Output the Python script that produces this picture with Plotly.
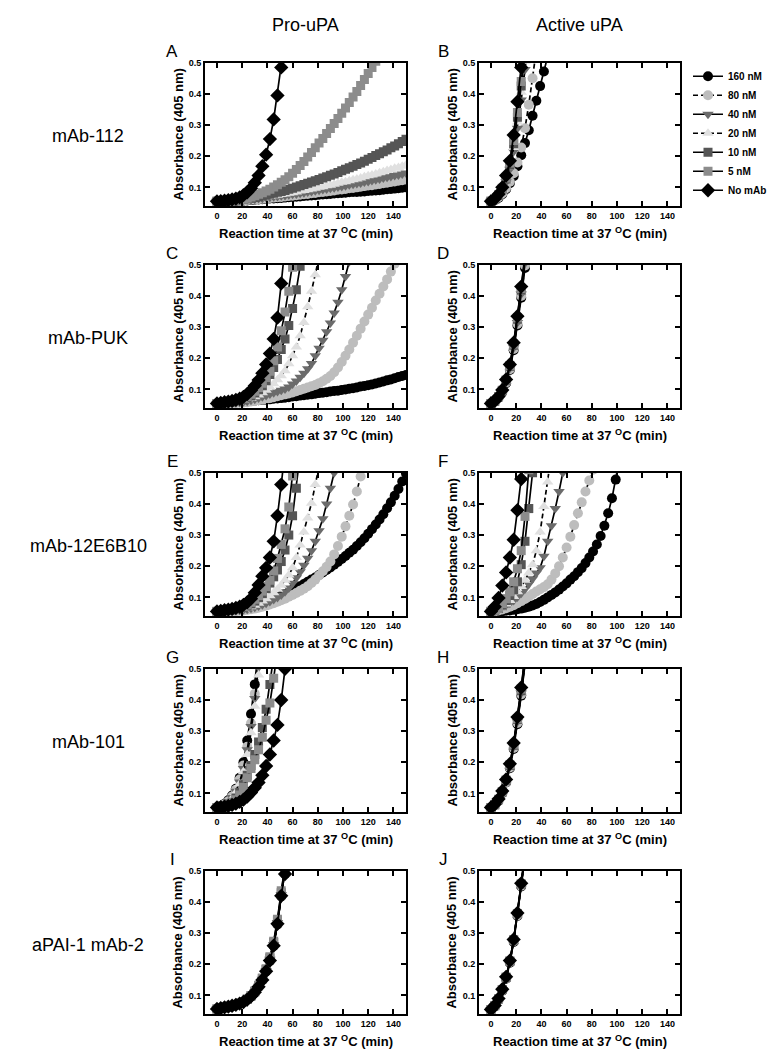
import plotly.graph_objects as go

# ---------------- data (absorbance x1000, read at 3-min intervals) ----------------
T = [0, 3, 6, 9, 12, 15, 18, 21, 24, 27, 30, 33, 36, 39, 42, 45, 48, 51, 54, 57,
     60, 63, 66, 69, 72, 75, 78, 81, 84, 87, 90, 93, 96, 99, 102, 105, 108, 111, 114, 117,
     120, 123, 126, 129, 132, 135, 138, 141, 144, 147, 150]

CONC = ["160 nM", "80 nM", "40 nM", "20 nM", "10 nM", "5 nM", "No mAb"]
LETTERS = ["A", "B", "C", "D", "E", "F", "G", "H", "I", "J"]
ROW_LABELS = ["mAb-112", "mAb-PUK", "mAb-12E6B10", "mAb-101", "aPAI-1 mAb-2"]
COL_LABELS = ["Pro-uPA", "Active uPA"]
X_TICKS = [0, 20, 40, 60, 80, 100, 120, 140]
Y_TICKS = [0.1, 0.2, 0.3, 0.4, 0.5]
Y_TICKTEXT = ["0.1", "0.2", "0.3", "0.4", "0.5"]

# Panel A (Pro-uPA, mAb-112)
A_160 = [55,55,55,55,56,56,57,57,58,59,60,61,62,63,64,64,65,66,67,68,69,70,71,72,73,74,75,76,77,78,79,80,81,82,83,84,85,85,86,87,88,89,90,91,92,94,95,96,97,99,100]
A_80 = [55,55,55,56,56,57,57,58,59,60,61,62,63,64,66,67,68,69,71,72,73,75,76,78,79,81,82,84,85,87,88,90,92,93,95,97,98,100,102,104,106,107,109,111,113,115,117,119,121,123,125]
A_40 = [55,55,55,56,56,57,58,59,60,61,62,64,65,67,68,70,71,73,74,76,78,79,81,83,85,87,89,91,93,95,97,99,101,103,105,108,110,112,114,117,119,122,124,127,130,132,135,138,140,143,146]
A_20 = [55,55,56,56,57,57,58,60,61,62,64,66,67,69,71,73,75,77,79,81,83,85,88,90,92,95,97,100,102,105,107,110,113,116,118,121,124,127,130,134,137,140,143,147,150,154,157,161,164,168,172]
A_10 = [55,55,56,56,57,58,59,61,63,65,67,70,72,75,78,81,84,87,90,94,97,101,105,109,113,117,121,125,130,134,139,143,148,153,158,163,168,173,178,184,190,196,202,208,214,220,227,233,240,247,254]
A_5 = [55,55,56,57,58,59,60,62,65,69,73,78,83,88,94,101,108,116,124,134,145,157,170,183,197,212,227,242,257,273,289,305,321,338,355,372,390,408,427,446,465,485,505]
A_0 = [55,56,57,59,61,64,68,75,84,97,115,138,168,205,255,318,395,485,580]

# Panel B (Active uPA, mAb-112)
B_160 = [55,59,66,78,94,113,136,168,203,242,283,330,378,425,472,520]
B_80 = [55,60,68,80,97,118,145,180,228,290,365,450,540]
B_40 = [55,61,72,90,118,158,215,290,380,478,580]
B_20 = [55,61,73,92,122,165,228,310,405,505]
B_10 = [55,62,75,95,127,172,240,325,425,530]
B_5 = [55,62,76,97,130,178,250,340,440,550]
B_0 = [55,63,78,100,138,185,268,375,485,600]

# Panel C (Pro-uPA, mAb-PUK)
C_160 = [55,55,56,57,58,59,60,61,62,63,64,65,66,67,68,70,71,72,73,75,77,78,80,81,83,84,86,88,89,91,93,95,96,98,100,102,104,106,109,111,113,116,119,122,125,129,132,136,140,143,146]
C_80 = [55,55,55,55,56,56,57,58,59,61,63,65,67,69,72,75,78,81,84,87,90,94,98,102,106,110,114,120,126,134,143,155,170,188,208,228,250,272,295,318,340,362,385,407,430,453,478,503]
C_40 = [55,55,55,56,56,57,58,60,62,65,68,72,76,80,85,89,93,97,101,108,117,127,139,152,166,183,208,232,258,285,313,345,380,420,462,510]
C_20 = [55,55,56,57,58,59,61,64,67,71,76,82,89,97,107,118,131,144,160,182,208,236,272,315,365,415,468,525]
C_10 = [55,56,57,58,59,61,63,67,72,79,88,99,112,128,148,170,196,228,262,305,360,420,495,580]
C_5 = [55,56,57,58,60,62,65,70,76,84,94,106,120,138,158,192,236,288,348,415,492,580]
C_0 = [55,57,59,61,63,66,70,76,85,97,112,130,152,180,215,262,330,440,560]

# Panel D (Active uPA, mAb-PUK)
D_160 = [55,61,73,92,120,162,226,305,394,490,585]
D_80 = [55,62,74,93,122,165,230,310,400,498,590]
D_40 = [55,62,75,94,124,168,234,315,406,505]
D_20 = [55,62,75,95,126,171,238,320,412,512]
D_10 = [55,62,76,96,128,174,242,325,418,518]
D_5 = [55,63,76,97,130,177,246,330,424,525]
D_0 = [55,63,77,98,132,180,250,335,430,530]

# Panel E (Pro-uPA, mAb-12E6B10)
E_160 = [55,56,57,59,61,63,66,68,71,74,77,80,84,87,91,95,100,105,110,116,122,129,136,143,150,157,164,172,180,188,196,205,214,223,233,243,253,265,277,290,304,319,334,350,367,386,405,426,448,472,498]
E_80 = [55,55,55,55,56,56,57,58,60,62,64,67,70,73,77,81,86,91,96,102,108,114,121,128,136,146,157,170,184,198,215,238,265,295,328,362,398,440,488,540]
E_40 = [55,55,55,56,57,58,59,60,62,65,68,72,76,81,87,93,100,108,118,130,145,163,182,203,226,250,280,314,352,400,450,500,550]
E_20 = [55,55,56,57,58,59,61,63,66,70,75,81,88,96,105,115,126,139,155,172,195,228,268,310,355,402,462,520]
E_10 = [55,56,57,58,59,61,63,67,72,79,88,99,112,128,146,166,188,215,252,300,362,450,560]
E_5 = [55,56,57,58,60,62,65,70,76,84,94,106,120,135,155,185,225,270,320,390,490,600]
E_0 = [55,57,59,61,63,66,70,76,84,96,115,140,168,195,228,280,362,462,570]

# Panel F (Active uPA, mAb-12E6B10)
F_160 = [55,55,56,56,57,58,60,62,64,67,70,74,79,85,92,100,108,116,125,135,145,157,168,181,194,210,228,247,270,297,330,370,418,478,545]
F_80 = [55,56,58,61,65,70,75,81,88,95,103,111,119,126,133,142,157,177,200,228,260,295,332,370,405,440,475,510]
F_40 = [55,57,61,66,73,81,90,101,113,127,143,160,178,195,232,280,330,385,440,500,560]
F_20 = [55,58,63,70,79,90,103,118,135,155,178,205,250,310,392,470,560]
F_10 = [55,59,66,76,90,106,124,150,205,280,385,500]
F_5 = [55,60,68,80,96,118,150,192,250,360,510]
F_0 = [55,70,98,138,180,228,285,380,480,585]

# Panel G (Pro-uPA, mAb-101)
G_160 = [55,60,67,78,93,115,150,200,270,355,450,560]
G_80 = [55,59,65,75,90,112,145,190,250,325,420,520]
G_40 = [55,58,64,73,87,107,137,180,240,315,405,505]
G_20 = [55,58,63,71,84,103,130,170,225,295,380,480,590]
G_10 = [55,57,60,65,72,85,103,128,158,190,225,265,312,370,450,540]
G_5 = [55,57,60,64,70,80,95,120,150,180,208,240,280,335,390,470,560]
G_0 = [55,56,58,60,63,67,73,80,90,103,118,135,158,188,225,270,320,400,500]

# Panel H (Active uPA, mAb-101)
H_160 = [55,63,78,101,135,181,243,322,414,515]
H_80 = [55,63,78,102,136,183,246,326,418,520]
H_40 = [55,63,79,103,138,186,250,330,422,525]
H_20 = [55,64,80,104,140,188,252,333,426,530]
H_10 = [55,64,80,105,141,190,255,337,430,535]
H_5 = [55,64,81,106,143,192,258,340,435,540]
H_0 = [55,65,82,108,145,195,262,345,440,545]

# Panel I (Pro-uPA, aPAI-1 mAb-2)
I_160 = [56,58,61,63,66,69,73,78,86,96,109,127,149,177,211,259,328,418,490,580]
I_80 = [56,58,61,64,66,70,74,79,87,97,111,129,151,180,215,262,332,420,492,582]
I_40 = [57,59,61,64,67,70,74,80,88,98,111,130,152,180,216,264,334,424,494,585]
I_20 = [56,58,61,63,66,69,73,78,86,96,110,128,150,178,213,261,330,421,491,581]
I_10 = [57,59,62,64,67,71,75,80,88,98,112,131,154,183,220,270,340,430,500,590]
I_5 = [57,59,62,65,68,71,75,81,89,100,114,133,156,186,224,274,345,436,505,595]
I_0 = [57,59,62,64,67,70,74,79,87,97,110,128,150,178,212,260,330,420,490,580]

# Panel J (Active uPA, aPAI-1 mAb-2)
J_160 = [55,65,86,115,154,205,272,355,450,550]
J_80 = [55,66,87,116,155,207,274,357,452,552]
J_40 = [55,66,87,117,156,208,276,359,454,554]
J_20 = [55,67,88,118,157,209,277,361,456,556]
J_10 = [55,67,89,119,158,210,278,362,457,557]
J_5 = [55,68,89,119,159,211,279,363,458,558]
J_0 = [55,68,90,120,160,212,280,365,460,560]

PANEL_DATA = [
    [A_160, A_80, A_40, A_20, A_10, A_5, A_0],
    [B_160, B_80, B_40, B_20, B_10, B_5, B_0],
    [C_160, C_80, C_40, C_20, C_10, C_5, C_0],
    [D_160, D_80, D_40, D_20, D_10, D_5, D_0],
    [E_160, E_80, E_40, E_20, E_10, E_5, E_0],
    [F_160, F_80, F_40, F_20, F_10, F_5, F_0],
    [G_160, G_80, G_40, G_20, G_10, G_5, G_0],
    [H_160, H_80, H_40, H_20, H_10, H_5, H_0],
    [I_160, I_80, I_40, I_20, I_10, I_5, I_0],
    [J_160, J_80, J_40, J_20, J_10, J_5, J_0],
]

# ---------------- styles ----------------
STYLE = {
    "160 nM": dict(symbol="circle", color="#000000", dash="solid", size=10),
    "80 nM": dict(symbol="circle", color="#bdbdbd", dash="5px,3px", size=10),
    "40 nM": dict(symbol="triangle-down", color="#6b6b6b", dash="solid", size=10),
    "20 nM": dict(symbol="triangle-up", color="#e0e0e0", dash="5px,3px", size=10),
    "10 nM": dict(symbol="square", color="#555555", dash="solid", size=9),
    "5 nM": dict(symbol="square", color="#8c8c8c", dash="solid", size=9),
    "No mAb": dict(symbol="diamond", color="#000000", dash="solid", size=11),
}

W, H = 780, 1050
COLS = [(205, 406), (479, 680)]
ROWS = [(58, 202), (261, 405), (470, 614), (667, 811), (870, 1014)]
FONT = "Liberation Sans, Arial, sans-serif"
NARROW = "Liberation Sans Narrow, Arial Narrow, Liberation Sans, sans-serif"


def px_x(v):
    return v / W


def px_y(v):
    return 1 - v / H


fig = go.Figure()
annotations = []

for i, (letter, series) in enumerate(zip(LETTERS, PANEL_DATA)):
    r, c = divmod(i, 2)
    ax = "" if i == 0 else str(i + 1)
    for name, ys in zip(CONC, series):
        st = STYLE[name]
        fig.add_trace(go.Scatter(
            x=T[:len(ys)], y=[v / 1000 for v in ys],
            xaxis="x" + ax, yaxis="y" + ax,
            mode="lines+markers", name=name, legendgroup=name,
            showlegend=(i == 1),
            line=dict(color="black", width=1.7, dash=st["dash"]),
            marker=dict(symbol=st["symbol"], color=st["color"], size=st["size"],
                        line=dict(width=0)),
            cliponaxis=True, hoverinfo="skip",
        ))
    x0, x1 = COLS[c]
    y0, y1 = ROWS[r]
    fig.layout["xaxis" + ax] = dict(
        domain=[px_x(x0), px_x(x1)], anchor="y" + ax, range=[-9.5, 150],
        tickmode="array", tickvals=X_TICKS, ticks="inside", ticklen=5, tickwidth=2,
        tickcolor="black", showline=True, linewidth=2, linecolor="black", mirror="ticks",
        showgrid=False, zeroline=False, fixedrange=True,
        tickfont=dict(family=FONT, size=9, color="black", weight="bold"),
    )
    fig.layout["yaxis" + ax] = dict(
        domain=[px_y(y1), px_y(y0)], anchor="x" + ax, range=[0.04, 0.5],
        tickmode="array", tickvals=Y_TICKS, ticktext=Y_TICKTEXT, ticks="inside", ticklen=5,
        tickwidth=2, tickcolor="black", showline=True, linewidth=2, linecolor="black",
        mirror="ticks", showgrid=False, zeroline=False, fixedrange=True,
        tickfont=dict(family=FONT, size=9, color="black", weight="bold"),
    )
    # panel letter
    annotations.append(dict(
        text=letter, x=px_x(172 if c == 0 else 443), y=px_y(y0 - 11),
        xref="paper", yref="paper", showarrow=False, xanchor="center", yanchor="middle",
        font=dict(family=FONT, size=17, color="black"),
    ))
    # y title
    annotations.append(dict(
        text="Absorbance (405 nm)", x=px_x(x0 - 27), y=px_y((y0 + y1) / 2),
        xref="paper", yref="paper", showarrow=False, textangle=-90,
        xanchor="center", yanchor="middle",
        font=dict(family=FONT, size=13, color="black", weight="bold"),
    ))
    # x title
    annotations.append(dict(
        text="Reaction time at 37 <sup>O</sup>C (min)", x=px_x((x0 + x1) / 2),
        y=px_y(y1 + 27), xref="paper", yref="paper", showarrow=False,
        xanchor="center", yanchor="middle",
        font=dict(family=FONT, size=13, color="black", weight="bold"),
    ))

for r, lab in enumerate(ROW_LABELS):
    y0, y1 = ROWS[r]
    annotations.append(dict(
        text=lab, x=px_x(88), y=px_y((y0 + y1) / 2 + 2), xref="paper", yref="paper",
        showarrow=False, xanchor="center", yanchor="middle",
        font=dict(family=NARROW, size=18, color="black"),
    ))

for c, lab in enumerate(COL_LABELS):
    x0, x1 = COLS[c]
    annotations.append(dict(
        text=lab, x=px_x((x0 + x1) / 2), y=px_y(20), xref="paper", yref="paper",
        showarrow=False, xanchor="center", yanchor="middle",
        font=dict(family=NARROW, size=18, color="black"),
    ))

fig.update_layout(
    width=W, height=H, margin=dict(l=0, r=0, t=0, b=0),
    paper_bgcolor="white", plot_bgcolor="white",
    annotations=annotations,
    showlegend=True,
    legend=dict(
        x=px_x(688), y=px_y(57), xanchor="left", yanchor="top",
        font=dict(family=FONT, size=10, color="black", weight="bold"),
        itemwidth=30, tracegroupgap=0, bgcolor="rgba(0,0,0,0)", borderwidth=0,
    ),
)

fig.write_html(
    "out.html",
    config={"displayModeBar": False, "staticPlot": True},
    post_script="document.body.style.margin='0';document.body.style.padding='0';",
)
